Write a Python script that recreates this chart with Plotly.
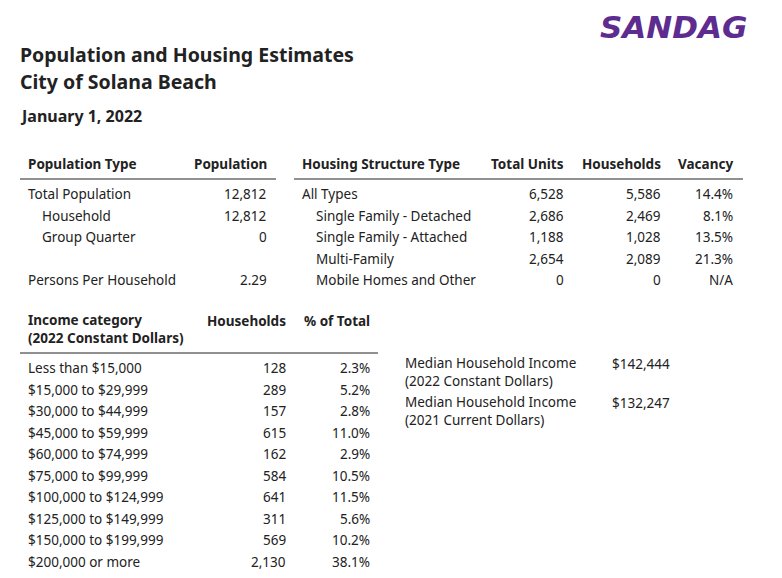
import plotly.graph_objects as go

W, H = 782, 578
OX, OY = 8, 8  # page body offset

# ---------------- data ----------------
title_lines = ["Population and Housing Estimates", "City of Solana Beach"]
date_label = "January 1, 2022"

pop_header = ["Population Type", "Population"]
pop_labels = ["Total Population", "Household", "Group Quarter", "Persons Per Household"]
pop_values = ["12,812", "12,812", "0", "2.29"]

housing_header = ["Housing Structure Type", "Total Units", "Households", "Vacancy"]
housing_types = ["All Types", "Single Family - Detached", "Single Family - Attached",
                 "Multi-Family", "Mobile Homes and Other"]
housing_units = ["6,528", "2,686", "1,188", "2,654", "0"]
housing_households = ["5,586", "2,469", "1,028", "2,089", "0"]
housing_vacancy = ["14.4%", "8.1%", "13.5%", "21.3%", "N/A"]

income_header = ["Income category<br>(2022 Constant Dollars)", "Households", "% of Total"]
income_categories = ["Less than $15,000", "$15,000 to $29,999", "$30,000 to $44,999",
                     "$45,000 to $59,999", "$60,000 to $74,999", "$75,000 to $99,999",
                     "$100,000 to $124,999", "$125,000 to $149,999", "$150,000 to $199,999",
                     "$200,000 or more"]
income_households = ["128", "289", "157", "615", "162", "584", "641", "311", "569", "2,130"]
income_pct = ["2.3%", "5.2%", "2.8%", "11.0%", "2.9%", "10.5%", "11.5%", "5.6%", "10.2%", "38.1%"]

median_labels = ["Median Household Income<br>(2022 Constant Dollars)",
                 "Median Household Income<br>(2021 Current Dollars)"]
median_values = ["$142,444", "$132,247"]

# ---------------- layout helpers ----------------
FONT = "Noto Sans"
TXT = "#222222"
annotations = []
shapes = []


def px(x):
    return (x - OX) / W


def py(y):
    return 1 - (y - OY) / H


def text(x, y, s, size=13.5, bold=False, anchor="left", yanchor="middle", color=TXT,
         italic=False, family=FONT):
    if bold:
        s = "<b>" + s + "</b>"
    if italic:
        s = "<i>" + s + "</i>"
    annotations.append(dict(
        x=px(x), y=py(y), xref="paper", yref="paper", text=s, showarrow=False,
        xanchor=anchor, yanchor=yanchor, align=anchor if anchor != "center" else "center",
        font=dict(family=family, size=size, color=color), borderpad=0,
    ))


def hline(x0, x1, y):
    shapes.append(dict(type="line", xref="paper", yref="paper", x0=px(x0), x1=px(x1),
                       y0=py(y), y1=py(y), line=dict(color="#222222", width=1.2)))


# logo (anchored to the very top of the figure so its box stays inside)
text(673, OY, "SANDAG", size=31, bold=True, italic=True, anchor="center", yanchor="top",
     color="#5e2c8f", family="DejaVu Sans")

# titles
text(19, 54, title_lines[0], size=19.5, bold=True)
text(19, 82, title_lines[1], size=19.5, bold=True)
text(19, 116, date_label, size=16, bold=True)

# population table
text(27, 164, pop_header[0], bold=True)
text(268, 164, pop_header[1], bold=True, anchor="right")
hline(20, 276, 179)
pop_y = [194, 216, 237, 280]
pop_x = [27, 41, 41, 27]
for lab, val, yy, xx in zip(pop_labels, pop_values, pop_y, pop_x):
    text(xx, yy, lab)
    text(268, yy, val, anchor="right")

# housing table
text(301, 164, housing_header[0], bold=True)
text(565, 164, housing_header[1], bold=True, anchor="right")
text(662, 164, housing_header[2], bold=True, anchor="right")
text(734, 164, housing_header[3], bold=True, anchor="right")
hline(294, 743, 179)
h_y = [194, 216, 237, 259, 280]
for i, (t, u, hh, v, yy) in enumerate(zip(housing_types, housing_units, housing_households,
                                             housing_vacancy, h_y)):
    text(301 if i == 0 else 315, yy, t)
    text(565, yy, u, anchor="right")
    text(662, yy, hh, anchor="right")
    text(734, yy, v, anchor="right")

# income table
text(27, 329, income_header[0], bold=True)
text(287, 321, income_header[1], bold=True, anchor="right")
text(371, 321, income_header[2], bold=True, anchor="right")
hline(20, 378, 353)
for i, (c, hh, p) in enumerate(zip(income_categories, income_households, income_pct)):
    yy = 368 + i * 21.5
    text(27, yy, c)
    text(287, yy, hh, anchor="right")
    text(371, yy, p, anchor="right")

# median income block
for i, (lab, val) in enumerate(zip(median_labels, median_values)):
    y0 = 372 + i * 39
    text(404, y0, lab)
    text(671, y0 - 8, val, anchor="right")

fig = go.Figure()
fig.update_layout(
    width=W, height=H, margin=dict(l=0, r=0, t=0, b=0),
    paper_bgcolor="white", plot_bgcolor="white",
    xaxis=dict(visible=False), yaxis=dict(visible=False),
    annotations=annotations, shapes=shapes, showlegend=False,
)
fig.write_html("out.html")
